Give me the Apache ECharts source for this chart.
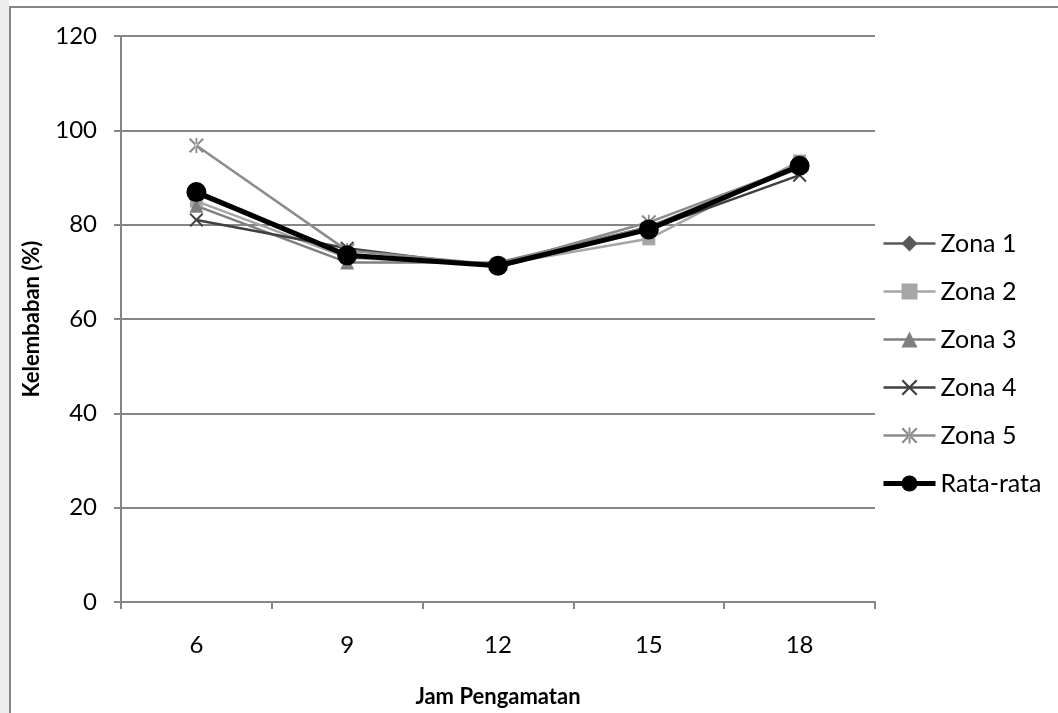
<!DOCTYPE html>
<html>
<head>
<meta charset="utf-8">
<script src="https://cdn.jsdelivr.net/npm/echarts@6/dist/echarts.min.js"></script>
<style>
  html, body { margin: 0; padding: 0; background: #fff; }
  #chart { width: 1058px; height: 713px; }
</style>
</head>
<body>
<div id="chart"></div>
<script>
// data
const jam = ['6', '9', '12', '15', '18'];
const zona1 = [86.5, 73.5, 71.5, 79.5, 92];
const zona2 = [85, 73, 71.5, 77, 93.5];
const zona3 = [84, 72, 72, 79.5, 92.5];
const zona4 = [81, 75, 71, 79, 90.5];
const zona5 = [96.8, 74.5, 71.5, 80.5, 92.5];
const rataRata = [86.9, 73.5, 71.3, 79, 92.5];
const yTicks = [0, 20, 40, 60, 80, 100, 120];

const FONT = 'Lato';
const AXIS_GRAY = '#868686';

// simbol silang dan bintang
const crossPath = 'path://M0,1 L1,0 L5,4 L9,0 L10,1 L6,5 L10,9 L9,10 L5,6 L1,10 L0,9 L4,5 Z';
const starPath = 'path://M0,1 L1,0 L5,4 L9,0 L10,1 L6,5 L10,9 L9,10 L5,6 L1,10 L0,9 L4,5 Z M4.4,10 L5.6,10 L5.6,0 L4.4,0 Z';

function zona(name, data, color, symbol, size) {
  return {
    name: name,
    type: 'line',
    data: data,
    symbol: symbol,
    symbolSize: size,
    showAllSymbol: true,
    lineStyle: { color: color, width: 2.5 },
    itemStyle: { color: color },
    emphasis: { disabled: true }
  };
}

let chart = echarts.init(document.getElementById('chart'));
let option = {
  animation: false,
  graphic: [{
    type: 'rect',
    shape: { x: 10, y: 7, width: 1100, height: 760 },
    style: { fill: 'none', stroke: AXIS_GRAY, lineWidth: 2 },
    silent: true,
    z: -1
  }, {
    type: 'rect',
    shape: { x: 0, y: 0, width: 9, height: 713 },
    style: { fill: '#ececec' },
    silent: true,
    z: -2
  }],
  grid: { left: 121, right: 183, top: 36, bottom: 107 },
  legend: {
    orient: 'vertical',
    left: 881,
    top: 231,
    padding: 0,
    itemWidth: 52,
    itemHeight: 20,
    itemGap: 23,
    lineStyle: { width: 'inherit' },
    textStyle: { fontFamily: FONT, fontSize: 25, color: '#000', lineHeight: 20 },
    data: ['Zona 1', 'Zona 2', 'Zona 3', 'Zona 4', 'Zona 5', 'Rata-rata']
  },
  xAxis: {
    type: 'category',
    data: jam,
    boundaryGap: true,
    name: 'Jam Pengamatan',
    nameLocation: 'middle',
    nameGap: 84,
    nameTextStyle: { fontFamily: FONT, fontSize: 22, fontWeight: 'bold', color: '#000' },
    axisLine: { lineStyle: { color: AXIS_GRAY, width: 2 } },
    axisTick: { show: true, length: 7, lineStyle: { color: AXIS_GRAY, width: 2 } },
    axisLabel: { fontFamily: FONT, fontSize: 24, color: '#000', margin: 31 }
  },
  yAxis: {
    type: 'value',
    min: yTicks[0],
    max: yTicks[yTicks.length - 1],
    interval: 20,
    name: 'Kelembaban (%)',
    nameLocation: 'middle',
    nameGap: 78,
    nameTextStyle: { fontFamily: FONT, fontSize: 22, fontWeight: 'bold', color: '#000' },
    axisLine: { show: true, lineStyle: { color: AXIS_GRAY, width: 2 } },
    axisTick: { show: true, length: 7, lineStyle: { color: AXIS_GRAY, width: 2 } },
    splitLine: { lineStyle: { color: AXIS_GRAY, width: 2 } },
    axisLabel: { fontFamily: FONT, fontSize: 24, color: '#000', margin: 24 }
  },
  series: [
    zona('Zona 1', zona1, '#595959', 'diamond', 14),
    zona('Zona 2', zona2, '#a6a6a6', 'rect', 13),
    zona('Zona 3', zona3, '#7f7f7f', 'triangle', 14),
    zona('Zona 4', zona4, '#404040', crossPath, 14),
    zona('Zona 5', zona5, '#8c8c8c', starPath, 15),
    {
      name: 'Rata-rata',
      type: 'line',
      data: rataRata,
      symbol: 'circle',
      symbolSize: 20,
      lineStyle: { color: '#000', width: 5 },
      itemStyle: { color: '#000' },
      emphasis: { disabled: true }
    }
  ]
};
chart.setOption(option);
</script>
</body>
</html>
